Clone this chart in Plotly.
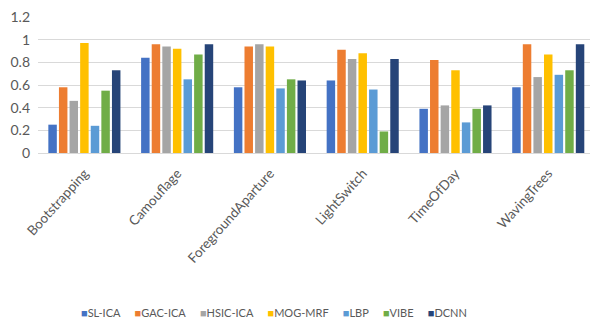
import plotly.graph_objects as go

categories = ["Bootstrapping", "Camouflage", "ForegroundAparture", "LightSwitch", "TimeOfDay", "WavingTrees"]
series_names = ["SL-ICA", "GAC-ICA", "HSIC-ICA", "MOG-MRF", "LBP", "VIBE", "DCNN"]
sl_ica = [0.25, 0.84, 0.58, 0.64, 0.39, 0.58]
gac_ica = [0.58, 0.96, 0.94, 0.91, 0.82, 0.96]
hsic_ica = [0.46, 0.94, 0.96, 0.83, 0.42, 0.67]
mog_mrf = [0.97, 0.92, 0.94, 0.88, 0.73, 0.87]
lbp = [0.24, 0.65, 0.57, 0.56, 0.27, 0.69]
vibe = [0.55, 0.87, 0.65, 0.19, 0.39, 0.73]
dcnn = [0.73, 0.96, 0.64, 0.83, 0.42, 0.96]
y_ticks = [0, 0.2, 0.4, 0.6, 0.8, 1, 1.2]
y_tick_labels = ["0", "0.2", "0.4", "0.6", "0.8", "1", "1.2"]

colors = ["#4472C4", "#ED7D31", "#A5A5A5", "#FFC000", "#5B9BD5", "#70AD47", "#264478"]
values = [sl_ica, gac_ica, hsic_ica, mog_mrf, lbp, vibe, dcnn]

fig = go.Figure()
for name, vals, c in zip(series_names, values, colors):
    fig.add_trace(go.Bar(x=categories, y=vals, name=name, showlegend=False,
                         marker=dict(color=c, line=dict(width=0))))

gap = '<span style="fill:rgba(255,255,255,0)">Mr</span>'
legend_text = gap.join(
    f'<span style="fill:{c}">■</span>{n}' for n, c in zip(series_names, colors)
)
fig.add_annotation(text=legend_text, xref="paper", yref="paper", x=0.428, y=-1.176,
                   xanchor="center", yanchor="middle", showarrow=False,
                   font=dict(family="Lato, Open Sans, sans-serif", size=11, color="#595959"))

fig.update_layout(
    width=590, height=322,
    margin=dict(l=38, r=0, t=17, b=169, autoexpand=False),
    paper_bgcolor="white", plot_bgcolor="white",
    barmode="group", bargap=0.2, bargroupgap=0.2,
    font=dict(family="Lato, Open Sans, sans-serif", size=12, color="#595959"),
    xaxis=dict(range=[-0.5, 5.45], tickangle=-48, showgrid=False, showline=False,
               ticks="", ticklabelstandoff=9, tickfont=dict(size=13.5, color="#595959")),
    yaxis=dict(range=[0, 1.2], tickvals=y_ticks, ticktext=y_tick_labels,
               showgrid=True, gridcolor="#d9d9d9", gridwidth=1, zeroline=True,
               zerolinecolor="#d9d9d9", zerolinewidth=1, showline=False, ticks="",
               ticklabelstandoff=7, tickfont=dict(size=14, color="#595959")),
)

fig.write_html("out.html")
